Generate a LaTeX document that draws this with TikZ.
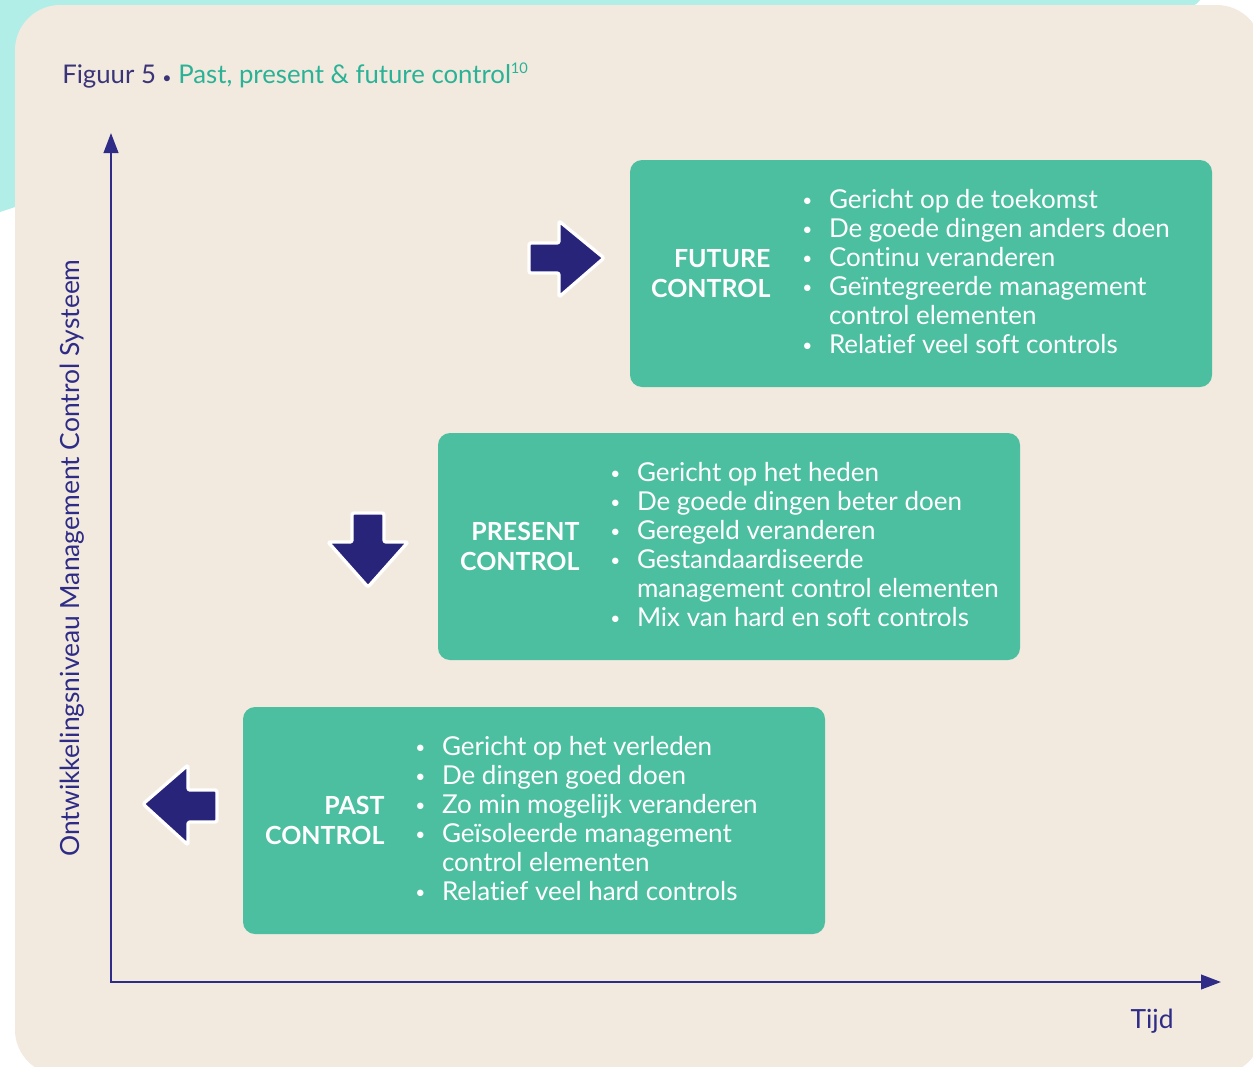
\documentclass[tikz,border=0pt]{standalone}
\usepackage{fontspec}
\setmainfont{Lato}[Ligatures=NoCommon]
\usetikzlibrary{arrows.meta,positioning,calc}

\definecolor{beige}{HTML}{F2EADE}
\definecolor{lightcyan}{HTML}{B2EEE8}
\definecolor{boxgreen}{HTML}{4CBFA1}
\definecolor{arrownavy}{HTML}{27247A}
\definecolor{axisnavy}{HTML}{2E2C86}
\definecolor{titlenavy}{HTML}{3A3478}
\definecolor{titlegreen}{HTML}{2AB297}

\newcommand{\itm}{\makebox[21pt][l]{\hspace{1pt}\raisebox{1.5pt}{\fontsize{13}{13}\selectfont\textbullet}}}
\newcommand{\cnt}{\makebox[21pt][l]{}}

\begin{document}
\begin{tikzpicture}[x=0.75pt,y=-0.75pt,
  ctrlbox/.style={fill=boxgreen, rounded corners=9pt, minimum width=436.5pt, minimum height=170.25pt, inner sep=0pt},
  ctrllabel/.style={text=white, align=right, inner sep=0pt, font=\fontsize{18.7}{22.5}\selectfont\bfseries},
  ctrllist/.style={text=white, align=left, inner sep=0pt, font=\fontsize{19.5}{21.75}\selectfont},
  blockarrow/.style={fill=arrownavy, draw=white, line width=2.5pt, line join=round, rounded corners=1.5pt},
  axis/.style={draw=axisnavy, line width=1.5pt, {Triangle[length=15pt,width=11pt]}-{Triangle[length=15pt,width=11pt]}},
  axislabel/.style={text=axisnavy, inner sep=0pt, font=\fontsize{19.8}{22}\selectfont}]
  \useasboundingbox (0,0) rectangle (1253,1067);

  % background
  \fill[white] (0,0) rectangle (1253,1067);
  \fill[lightcyan] (0,0) -- (1200,0) .. controls (1195,6) .. (1180,8) -- (80,8) -- (80,200) -- (15,207) -- (0,212) -- cycle;
  \fill[beige, rounded corners=34pt] (15,5) rectangle (1262,1075);

  % title
  \node[anchor=base west, inner sep=0pt, font=\fontsize{19.3}{22}\selectfont] (title) at (62,83)
    {\color{titlenavy}Figuur 5 {\fontsize{12}{12}\selectfont\textbullet}\ \color{titlegreen}Past, present \& future control{\fontsize{11}{11}\selectfont\raisebox{7pt}{10}}};

  % axes
  \coordinate (origin) at (111,982);
  \coordinate (ytop) at (111,133);
  \coordinate (xend) at (1221,982);
  \draw[axis] (ytop) -- (origin) -- (xend);
  \node[axislabel, rotate=90] (ylabel) at (72,558) {Ontwikkelingsniveau Management Control Systeem};
  \node[axislabel] (tijd) at (1152,1021) {Tijd};

  % boxes
  \node[ctrlbox] (future) at (921,273.5) {};
  \node[ctrlbox] (present) at (729,546.5) {};
  \node[ctrlbox] (past) at (534,820.5) {};

  \node[ctrllabel, anchor=east] (futurelabel) at ($(future.west)+(141,0)$) {FUTURE\\CONTROL};
  \node[ctrllabel, anchor=east] (presentlabel) at ($(present.west)+(142,0)$) {PRESENT\\CONTROL};
  \node[ctrllabel, anchor=east] (pastlabel) at ($(past.west)+(142,0)$) {PAST\\CONTROL};

  \node[ctrllist, anchor=west] (futurelist) at ($(future.west)+(171,-2)$)
    {\itm Gericht op de toekomst\\
     \itm De goede dingen anders doen\\
     \itm Continu veranderen\\
     \itm Geïntegreerde management\\
     \cnt control elementen\\
     \itm Relatief veel soft controls};
  \node[ctrllist, anchor=west] (presentlist) at ($(present.west)+(171,-2)$)
    {\itm Gericht op het heden\\
     \itm De goede dingen beter doen\\
     \itm Geregeld veranderen\\
     \itm Gestandaardiseerde\\
     \cnt management control elementen\\
     \itm Mix van hard en soft controls};
  \node[ctrllist, anchor=west] (pastlist) at ($(past.west)+(171,-2)$)
    {\itm Gericht op het verleden\\
     \itm De dingen goed doen\\
     \itm Zo min mogelijk veranderen\\
     \itm Geïsoleerde management\\
     \cnt control elementen\\
     \itm Relatief veel hard controls};

  % block arrows
  \draw[blockarrow] (529,243) -- (559,243) -- (559,221) -- (604,258) -- (559,297) -- (559,273) -- (529,273) -- cycle;
  \draw[blockarrow] (352,513) -- (384,513) -- (384,542) -- (408,542) -- (368,587) -- (328,542) -- (352,542) -- cycle;
  \draw[blockarrow] (217,790) -- (217,822) -- (188,822) -- (188,845) -- (143,804) -- (188,765) -- (188,790) -- cycle;
\end{tikzpicture}
\end{document}
